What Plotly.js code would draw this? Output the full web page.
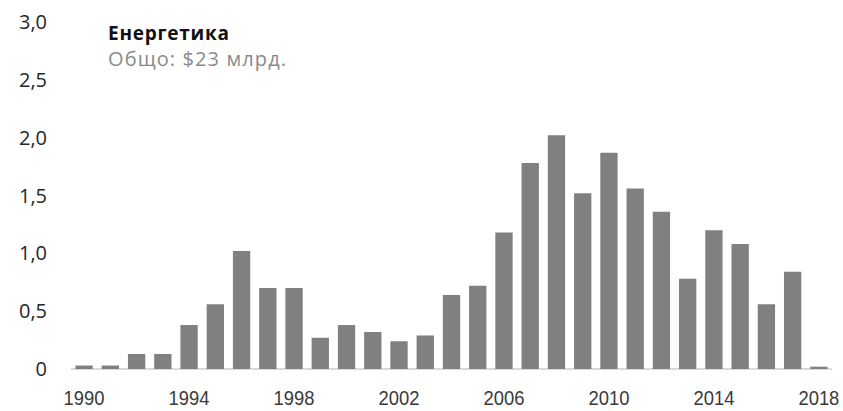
<!DOCTYPE html>
<html>
<head>
<meta charset="utf-8">
<script src="https://cdn.plot.ly/plotly-3.0.1.min.js"></script>
<style>
  html, body { margin: 0; padding: 0; background: #fff; }
  #chart { width: 843px; height: 411px; }
</style>
</head>
<body>
<div id="chart"></div>
<script>
// Annual investment in the energy sector, billions of dollars
const years = [1990, 1991, 1992, 1993, 1994, 1995, 1996, 1997, 1998, 1999,
               2000, 2001, 2002, 2003, 2004, 2005, 2006, 2007, 2008, 2009,
               2010, 2011, 2012, 2013, 2014, 2015, 2016, 2017, 2018];
const values = [0.03, 0.03, 0.13, 0.13, 0.38, 0.56, 1.02, 0.70, 0.70, 0.27,
                0.38, 0.32, 0.24, 0.29, 0.64, 0.72, 1.18, 1.78, 2.02, 1.52,
                1.87, 1.56, 1.36, 0.78, 1.20, 1.08, 0.56, 0.84, 0.02];

const yTickVals = [0, 0.5, 1.0, 1.5, 2.0, 2.5, 3.0];
const yTickText = ['0', '0,5', '1,0', '1,5', '2,0', '2,5', '3,0'];
const xTickVals = [1990, 1994, 1998, 2002, 2006, 2010, 2014, 2018];

const titleText = 'Енергетика';
const subtitleText = 'Общо: $23 млрд.';

const trace = {
  type: 'bar',
  x: years,
  y: values,
  width: 0.66,
  marker: { color: '#808080' },
  hoverinfo: 'x+y'
};

const layout = {
  width: 843,
  height: 411,
  margin: { l: 71, r: 11, t: 22, b: 42 },
  paper_bgcolor: '#ffffff',
  plot_bgcolor: '#ffffff',
  showlegend: false,
  xaxis: {
    range: [1989.5, 2018.5],
    tickvals: xTickVals,
    ticktext: xTickVals.map(String),
    showgrid: false,
    zeroline: false,
    showline: false,
    ticks: '',
    ticklabelstandoff: 15,
    ticklabeloverflow: 'allow',
    tickfont: { family: 'Liberation Sans, Arial, sans-serif', size: 20, color: '#3a3a3a' }
  },
  yaxis: {
    range: [0, 3.0],
    tickvals: yTickVals,
    ticktext: yTickText,
    showgrid: false,
    zeroline: true,
    zerolinecolor: '#d9d9d9',
    zerolinewidth: 2,
    showline: false,
    ticks: '',
    ticklabelstandoff: 23,
    tickfont: { family: 'Open Sans, sans-serif', size: 20, color: '#262626' }
  },
  annotations: [
    {
      text: '<b>' + titleText + '</b>',
      xref: 'paper', yref: 'paper',
      x: 0.046, y: 0.968,
      xanchor: 'left', yanchor: 'middle', align: 'left',
      showarrow: false,
      font: { family: 'Open Sans, sans-serif', size: 19, color: '#111111' }
    },
    {
      text: subtitleText,
      xref: 'paper', yref: 'paper',
      x: 0.046, y: 0.895,
      xanchor: 'left', yanchor: 'middle', align: 'left',
      showarrow: false,
      font: { family: 'Open Sans, sans-serif', size: 20, color: '#8a8a8a' }
    }
  ]
};

// widths the heading lines are set to
const headingWidths = [121, 178];

Plotly.newPlot('chart', [trace], layout, { displayModeBar: false, staticPlot: true })
  .then(function (gd) {
    // condensed year labels along the bottom axis
    gd.querySelectorAll('.xtick text').forEach(function (el) {
      el.setAttribute('textLength', '41');
      el.setAttribute('lengthAdjust', 'spacingAndGlyphs');
    });
    gd.querySelectorAll('.annotation-text').forEach(function (el, i) {
      el.setAttribute('textLength', String(headingWidths[i]));
      el.setAttribute('lengthAdjust', 'spacing');
    });
  });
</script>
</body>
</html>
